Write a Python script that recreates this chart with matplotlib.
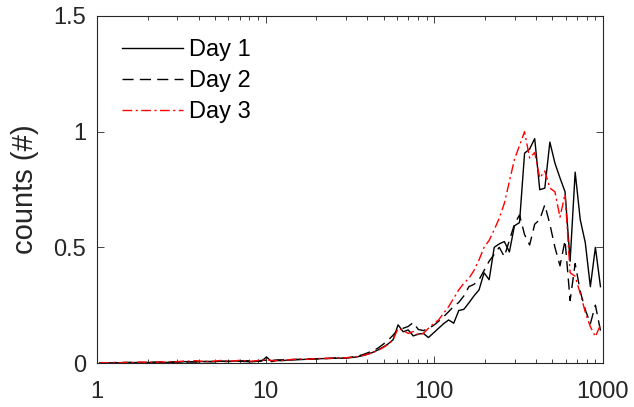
import numpy as np
import matplotlib
matplotlib.use("Agg")
import matplotlib.pyplot as plt

# 100 log-spaced size bins between 1 and 1000, plotted at their geometric centres
bin_edges = np.logspace(0, 3, 101)
bin_centers = np.sqrt(bin_edges[:-1] * bin_edges[1:])

day1 = [
    0.000, 0.001, 0.000, 0.002, 0.001, 0.002, 0.003, 0.001, 0.002, 0.003,
    0.002, 0.004, 0.003, 0.002, 0.004, 0.005, 0.004, 0.006, 0.005, 0.004,
    0.006, 0.007, 0.005, 0.006, 0.008, 0.006, 0.007, 0.009, 0.007, 0.006,
    0.005, 0.007, 0.008, 0.026, 0.006, 0.011, 0.010, 0.012, 0.013, 0.014,
    0.015, 0.016, 0.017, 0.018, 0.019, 0.019, 0.020, 0.021, 0.021, 0.022,
    0.024, 0.027, 0.032, 0.038, 0.046, 0.056, 0.068, 0.082, 0.100, 0.165,
    0.135, 0.143, 0.117, 0.125, 0.128, 0.110, 0.130, 0.150, 0.170, 0.186,
    0.172, 0.227, 0.232, 0.260, 0.290, 0.316, 0.390, 0.360, 0.500, 0.515,
    0.525, 0.480, 0.593, 0.607, 0.907, 0.925, 0.970, 0.749, 0.756, 0.955,
    0.864, 0.800, 0.740, 0.440, 0.825, 0.620, 0.520, 0.330, 0.500, 0.330,
]
day2 = [
    0.000, 0.000, 0.001, 0.001, 0.000, 0.002, 0.001, 0.002, 0.002, 0.001,
    0.003, 0.002, 0.003, 0.004, 0.003, 0.004, 0.005, 0.004, 0.005, 0.006,
    0.005, 0.006, 0.007, 0.006, 0.007, 0.008, 0.007, 0.008, 0.009, 0.010,
    0.009, 0.010, 0.011, 0.012, 0.011, 0.013, 0.014, 0.013, 0.015, 0.016,
    0.016, 0.017, 0.018, 0.018, 0.019, 0.020, 0.021, 0.022, 0.022, 0.023,
    0.026, 0.030, 0.036, 0.044, 0.053, 0.064, 0.080, 0.098, 0.120, 0.145,
    0.150, 0.158, 0.175, 0.145, 0.140, 0.150, 0.162, 0.180, 0.200, 0.222,
    0.245, 0.262, 0.290, 0.330, 0.340, 0.360, 0.400, 0.440, 0.470, 0.500,
    0.460, 0.530, 0.600, 0.640, 0.555, 0.510, 0.600, 0.620, 0.684, 0.600,
    0.500, 0.420, 0.530, 0.270, 0.430, 0.310, 0.230, 0.170, 0.250, 0.140,
]
day3 = [
    0.000, 0.001, 0.001, 0.002, 0.001, 0.003, 0.002, 0.003, 0.004, 0.003,
    0.004, 0.003, 0.005, 0.004, 0.006, 0.005, 0.007, 0.009, 0.008, 0.010,
    0.008, 0.006, 0.007, 0.009, 0.011, 0.009, 0.008, 0.010, 0.012, 0.009,
    0.008, 0.010, 0.012, 0.014, 0.011, 0.010, 0.012, 0.013, 0.015, 0.016,
    0.017, 0.016, 0.018, 0.019, 0.020, 0.020, 0.021, 0.022, 0.022, 0.023,
    0.025, 0.028, 0.032, 0.038, 0.045, 0.054, 0.066, 0.080, 0.100, 0.150,
    0.140, 0.128, 0.136, 0.121, 0.128, 0.150, 0.170, 0.186, 0.215, 0.244,
    0.280, 0.316, 0.345, 0.366, 0.400, 0.446, 0.500, 0.530, 0.576, 0.626,
    0.690, 0.785, 0.880, 0.940, 1.000, 0.886, 0.910, 0.800, 0.830, 0.756,
    0.740, 0.630, 0.730, 0.390, 0.375, 0.300, 0.220, 0.157, 0.114, 0.165,
]

labels = ["Day 1", "Day 2", "Day 3"]
x_ticks = [1, 10, 100, 1000]
x_ticklabels = ["1", "10", "100", "1000"]
y_ticks = [0, 0.5, 1, 1.5]
y_ticklabels = ["0", "0.5", "1", "1.5"]

plt.rcParams["font.family"] = ["Liberation Sans", "DejaVu Sans"]
axis_gray = "#262626"
tick_fs = 17

fig = plt.figure(figsize=(6.34, 4.07), dpi=100)
ax = fig.add_axes([97 / 634, 44 / 407, 506 / 634, 347 / 407])

ax.semilogx(bin_centers, day1, color="black", lw=1.0, label=labels[0])
ax.semilogx(bin_centers, day2, color="black", lw=1.0, dashes=(8, 4.5),
            label=labels[1])
ax.semilogx(bin_centers, day3, color="red", lw=1.0,
            dashes=(7, 2.5, 1.5, 2.5), label=labels[2])

ax.set_xlim(1, 1000)
ax.set_ylim(0, 1.5)
ax.set_xticks(x_ticks)
ax.set_xticklabels(x_ticklabels)
ax.set_yticks(y_ticks)
ax.set_yticklabels(y_ticklabels)
ax.set_ylabel("counts (#)", fontsize=21, color=axis_gray, labelpad=10)

for sp in ax.spines.values():
    sp.set_color(axis_gray)
    sp.set_linewidth(0.8)
ax.tick_params(which="both", direction="in", top=True, right=True,
               colors=axis_gray, labelsize=tick_fs)
ax.tick_params(which="major", length=5, width=0.6)
ax.tick_params(axis="x", which="major", pad=13)
ax.tick_params(axis="y", which="major", pad=8)
ax.tick_params(which="minor", length=3, width=0.6)

ax.legend(loc="upper left", bbox_to_anchor=(0.049, 0.933), frameon=False,
          fontsize=tick_fs, handlelength=2.6, handletextpad=0.25,
          labelspacing=0.38, borderpad=0, borderaxespad=0)

fig.savefig("out.png", dpi=100)
